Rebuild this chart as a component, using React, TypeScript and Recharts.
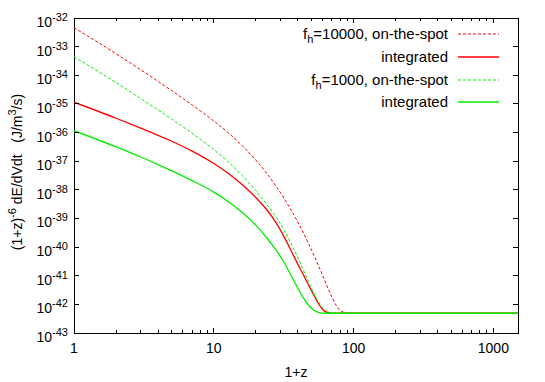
import React from "react";
import { LineChart, Line, XAxis, YAxis, ReferenceArea } from "recharts";

// 1+z sample points
const X_VALUES = [1, 2, 3, 4, 5, 7, 10, 13, 16, 20, 24, 28, 32, 36, 40, 44, 48, 52, 56, 60, 65, 70, 75, 80, 90, 100, 200, 500, 1000, 1500];

// f_h = 10000, on-the-spot
const RED_SPOT = [
  4.58e-33, 5.64e-34, 1.556e-34, 6.09e-35, 2.9e-35, 9.18e-36, 2.54e-36, 8.85e-37, 3.44e-37, 1.09e-37, 3.66e-38, 1.3e-38,
  4.82e-39, 1.84e-39, 7.26e-40, 2.95e-40, 1.23e-40, 5.2e-41, 2.25e-41, 1.02e-41, 4.04e-42, 1.79e-42, 9.33e-43, 6.12e-43,
  5.01e-43, 4.9e-43, 4.9e-43, 4.9e-43, 4.9e-43, 4.9e-43,
];
// f_h = 10000, integrated
const RED_INT = [
  1.148e-35, 3.16e-36, 1.43e-36, 8.02e-37, 4.96e-37, 2.24e-37, 8.31e-38, 3.45e-38, 1.5e-38, 5.32e-39, 1.97e-39, 6.9e-40,
  2.19e-40, 6.97e-41, 2.47e-41, 1.02e-41, 4.39e-42, 2.13e-42, 1.07e-42, 6.64e-43, 5.21e-43, 4.93e-43, 4.9e-43, 4.9e-43,
  4.9e-43, 4.9e-43, 4.9e-43, 4.9e-43, 4.9e-43, 4.9e-43,
];
// f_h = 1000, on-the-spot
const GREEN_SPOT = [
  4.46e-34, 5.53e-35, 1.55e-35, 6.14e-36, 2.94e-36, 9.42e-37, 2.54e-37, 8.41e-38, 3.1e-38, 9.25e-39, 3.06e-39, 1.09e-39,
  3.78e-40, 1.24e-40, 4.18e-41, 1.46e-41, 5.57e-42, 2.41e-42, 1.24e-42, 7.94e-43, 5.65e-43, 5.05e-43, 4.9e-43, 4.9e-43,
  4.9e-43, 4.9e-43, 4.9e-43, 4.9e-43, 4.9e-43, 4.9e-43,
];
// f_h = 1000, integrated
const GREEN_INT = [
  1.16e-36, 3.15e-37, 1.4e-37, 7.58e-38, 4.61e-38, 2.1e-38, 8.32e-39, 3.54e-39, 1.6e-39, 5.74e-40, 2.08e-40, 7.62e-41,
  2.79e-41, 9.42e-42, 3.59e-42, 1.61e-42, 8.93e-43, 6.27e-43, 5.3e-43, 4.97e-43, 4.9e-43, 4.9e-43, 4.9e-43, 4.9e-43,
  4.9e-43, 4.9e-43, 4.9e-43, 4.9e-43, 4.9e-43, 4.9e-43,
];

const X_TICKS = [
  1, 2, 3, 4, 5, 6, 7, 8, 9, 10, 20, 30, 40, 50, 60, 70, 80, 90, 100, 200, 300, 400, 500, 600, 700, 800, 900, 1000,
];
const X_MAJOR = [1, 10, 100, 1000];
const Y_TICKS = [1e-43, 1e-42, 1e-41, 1e-40, 1e-39, 1e-38, 1e-37, 1e-36, 1e-35, 1e-34, 1e-33, 1e-32];

const SERIES = [
  { key: "redSpot", values: RED_SPOT, color: "#ff0000", dash: "3 2", width: 1, label: ["f", "h", "=10000, on-the-spot"] },
  { key: "redInt", values: RED_INT, color: "#ff0000", dash: undefined, width: 1.3, label: ["integrated"] },
  { key: "greenSpot", values: GREEN_SPOT, color: "#00f000", dash: "3 2", width: 1, label: ["f", "h", "=1000, on-the-spot"] },
  { key: "greenInt", values: GREEN_INT, color: "#00f000", dash: undefined, width: 1.3, label: ["integrated"] },
];

const data = X_VALUES.map((x, i) => {
  const row: Record<string, number> = { x };
  SERIES.forEach((s) => (row[s.key] = s.values[i]));
  return row;
});

const W = 545;
const H = 382;
const PLOT_TOP = 18;
const PLOT_LEFT = 74;
const PLOT_RIGHT = 518;
const PLOT_BOTTOM = 333;
const X_AXIS_H = 30;
const Y_AXIS_W = 60;
const FONT = "'Liberation Sans', Arial, Helvetica, sans-serif";

function XTick(props: any) {
  const { x, y, payload } = props;
  const v = payload.value;
  const major = X_MAJOR.includes(v);
  const len = major ? 5 : 3;
  return (
    <g>
      <line x1={x} x2={x} y1={y} y2={y - len} stroke="#000" shapeRendering="crispEdges" />
      <line x1={x} x2={x} y1={PLOT_TOP} y2={PLOT_TOP + len} stroke="#000" shapeRendering="crispEdges" />
      {major && (
        <text x={x} y={y + 20} textAnchor="middle" fontSize={14} fontFamily={FONT} fill="#000">
          {v}
        </text>
      )}
    </g>
  );
}

function YTick(props: any) {
  const { x, y, payload } = props;
  const exp = Math.round(Math.log10(payload.value));
  return (
    <g>
      <line x1={x} x2={x + 5} y1={y} y2={y} stroke="#000" shapeRendering="crispEdges" />
      <line x1={PLOT_RIGHT} x2={PLOT_RIGHT - 5} y1={y} y2={y} stroke="#000" shapeRendering="crispEdges" />
      <text x={x - 6} y={y + 9} textAnchor="end" fontSize={14} fontFamily={FONT} fill="#000">
        <tspan>10</tspan>
        <tspan dy={-6} fontSize={11}>{exp}</tspan>
      </text>
    </g>
  );
}

function Overlay() {
  const legendY = [34, 57, 80, 102];
  return (
    <svg width={W} height={H} style={{ position: "absolute", left: 0, top: 0, pointerEvents: "none" }}>
      {SERIES.map((s, i) => (
        <g key={s.key}>
          <text x={448} y={legendY[i] + 5} textAnchor="end" fontSize={15} fontFamily={FONT} fill="#000">
            {s.label.length === 1 ? (
              s.label[0]
            ) : (
              <>
                <tspan>{s.label[0]}</tspan>
                <tspan dy={4} fontSize={11}>{s.label[1]}</tspan>
                <tspan dy={-4}>{s.label[2]}</tspan>
              </>
            )}
          </text>
          <line
            x1={458}
            x2={499}
            y1={legendY[i]}
            y2={legendY[i]}
            stroke={s.color}
            strokeWidth={s.width}
            strokeDasharray={s.dash}
          />
        </g>
      ))}
      <text
        transform="translate(22,172) rotate(-90)"
        textAnchor="middle"
        fontSize={14}
        fontFamily={FONT}
        fill="#000"
        xmlSpace="preserve"
      >
        <tspan>(1+z)</tspan>
        <tspan dy={-6} fontSize={11}>-6</tspan>
        <tspan dy={6}> dE/dVdt   (J/m</tspan>
        <tspan dy={-6} fontSize={11}>3</tspan>
        <tspan dy={6}>/s)</tspan>
      </text>
      <text x={(PLOT_LEFT + PLOT_RIGHT) / 2} y={377} textAnchor="middle" fontSize={14} fontFamily={FONT} fill="#000">
        1+z
      </text>
    </svg>
  );
}

export default function App() {
  return (
    <div style={{ position: "absolute", left: 0, top: 0, width: W, height: H, background: "#fff" }}>
      <LineChart
        width={W}
        height={H}
        data={data}
        margin={{
          top: PLOT_TOP,
          right: W - PLOT_RIGHT,
          bottom: H - PLOT_BOTTOM - X_AXIS_H,
          left: PLOT_LEFT - Y_AXIS_W,
        }}
      >
        <XAxis
          dataKey="x"
          type="number"
          scale="log"
          domain={[1, 1500]}
          allowDataOverflow
          ticks={X_TICKS}
          interval={0}
          tick={<XTick />}
          tickLine={false}
          tickSize={0}
          tickMargin={0}
          axisLine={false}
          height={X_AXIS_H}
        />
        <YAxis
          type="number"
          scale="log"
          domain={[1e-43, 1e-32]}
          allowDataOverflow
          ticks={Y_TICKS}
          interval={0}
          tick={<YTick />}
          tickLine={false}
          tickSize={0}
          tickMargin={0}
          axisLine={false}
          width={Y_AXIS_W}
        />
        {SERIES.map((s) => (
          <Line
            key={s.key}
            type="monotone"
            dataKey={s.key}
            stroke={s.color}
            strokeWidth={s.width}
            strokeDasharray={s.dash}
            dot={false}
            isAnimationActive={false}
          />
        ))}
        <ReferenceArea
          x1={1}
          x2={1500}
          y1={1e-43}
          y2={1e-32}
          fill="none"
          stroke="#000"
          strokeWidth={1}
          shapeRendering="crispEdges"
        />
      </LineChart>
      <Overlay />
    </div>
  );
}
